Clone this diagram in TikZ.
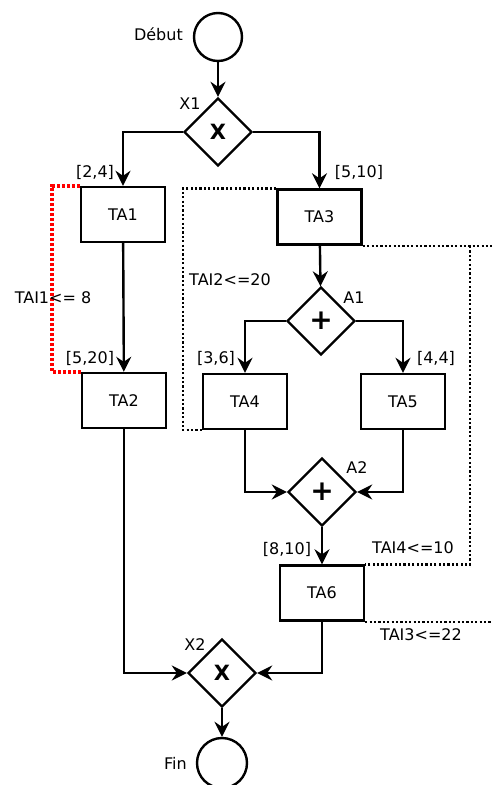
\documentclass[tikz,border=0pt]{standalone}
\usepackage{fontspec}
\setmainfont{DejaVu Sans}
\usetikzlibrary{shapes.geometric,arrows.meta}
\begin{document}
\begin{tikzpicture}[x=1pt,y=-1pt,
  every node/.style={font=\fontsize{16}{18}\selectfont},
  taskbox/.style={draw,line width=2.4pt,minimum width=84pt,minimum height=55pt,inner sep=0pt},
  gate/.style={draw,diamond,aspect=1,line width=2.4pt,minimum width=68pt,minimum height=68pt,inner sep=0pt},
  gatesym/.style={font=\fontsize{21}{21}\selectfont\bfseries},
  plussym/.style={font=\fontsize{28}{28}\selectfont\bfseries},
  event/.style={draw,circle,line width=2.4pt,inner sep=0pt},
  lbl/.style={inner sep=0pt},
  arr/.style={line width=2.4pt,-{Stealth[length=15pt,width=15pt,inset=5pt]}},
  blackdot/.style={line width=2.4pt,dash pattern=on 2.2pt off 2.2pt},
  reddot/.style={line width=3.8pt,red,dash pattern=on 3pt off 2pt}
]
\useasboundingbox (0,0) rectangle (492,785);

% events
\node[event,minimum size=48pt] (deb) at (218,37) {};
\node[event,minimum size=50pt] (fin) at (222,763) {};

% gateways
\node[gate] (X1) at (218,132) {};
\node[gatesym] (X1s) at (X1) {X};
\node[gate] (A1) at (321,321) {};
\node[plussym] (A1s) at (A1) {+};
\node[gate] (A2) at (322,492) {};
\node[plussym] (A2s) at (A2) {+};
\node[gate] (X2) at (222,673) {};
\node[gatesym] (X2s) at (X2) {X};

% tasks
\node[taskbox] (TA1) at (123,214.5) {TA1};
\node[taskbox] (TA2) at (124,400.5) {TA2};
\node[taskbox] (TA3) at (319.5,217) {TA3};
\node[taskbox] (TA4) at (245,401.5) {TA4};
\node[taskbox] (TA5) at (403,401.5) {TA5};
\node[taskbox] (TA6) at (322,593) {TA6};

% constraints (dotted)
\coordinate (r1) at (52,187);
\draw[reddot] (TA1.north west) -- (TA1.north west -| r1) |- (TA2.north west);
\coordinate (b1) at (183,190);
\draw[blackdot] (TA3.north west) -- (TA3.north west -| b1) |- (TA4.south west);
\coordinate (b2) at (492,244.5);
\draw[blackdot] (TA3.south east) -- (TA3.south east -| b2);
\coordinate (b3) at (470,246);
\draw[blackdot] (b3) |- (TA6.north east);
\coordinate (b4) at (492,620.5);
\draw[blackdot] (TA6.south east) -- (TA6.south east -| b4);

% connectors
\draw[arr] (deb) -- (X1);
\draw[arr] (X1.west) -| (TA1.north);
\draw[arr] (X1.east) -| (TA3.north);
\draw[arr] (TA1) -- (TA2);
\draw[arr] (TA3) -- (A1);
\draw[arr] (A1.west) -| (TA4.north);
\draw[arr] (A1.east) -| (TA5.north);
\draw[arr] (TA4.south) |- (A2.west);
\draw[arr] (TA5.south) |- (A2.east);
\draw[arr] (A2) -- (TA6);
\draw[arr] (TA2.south) |- (X2.west);
\draw[arr] (TA6.south) |- (X2.east);
\draw[arr] (X2) -- (fin);

% labels
\node[lbl,anchor=east] (ldeb) at (183,34) {Début};
\node[lbl] (lX1) at (190,104) {X1};
\node[lbl] (l24) at (95,172) {[2,4]};
\node[lbl] (l510) at (359,172) {[5,10]};
\node[lbl] (lTAI1) at (53,298) {TAI1<= 8};
\node[lbl] (lTAI2) at (230,280) {TAI2<=20};
\node[lbl] (lA1) at (354,298) {A1};
\node[lbl] (l36) at (216,358) {[3,6]};
\node[lbl] (l44) at (436,358) {[4,4]};
\node[lbl] (l520) at (90,358) {[5,20]};
\node[lbl] (lA2) at (357,468) {A2};
\node[lbl] (l810) at (287,549) {[8,10]};
\node[lbl] (lTAI4) at (413,548) {TAI4<=10};
\node[lbl] (lTAI3) at (421,635) {TAI3<=22};
\node[lbl] (lX2) at (195,645) {X2};
\node[lbl,anchor=east] (lfin) at (187,763) {Fin};
\end{tikzpicture}
\end{document}
